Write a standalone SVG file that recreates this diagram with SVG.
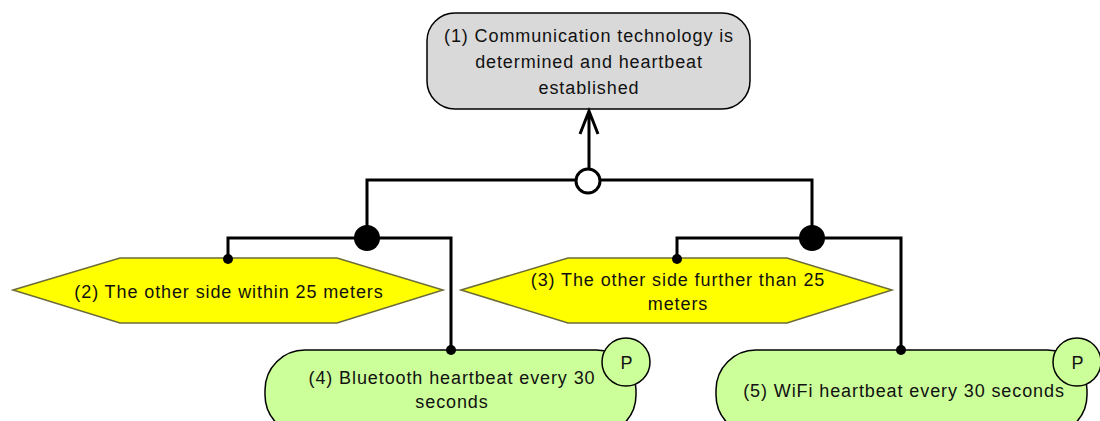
<svg xmlns="http://www.w3.org/2000/svg" width="1100" height="421" viewBox="0 0 1100 421">
<style>
.t{font-family:"Liberation Sans",Arial,sans-serif;font-size:18px;letter-spacing:0.9px;fill:#111;text-anchor:middle}
.ln{fill:none;stroke:#000;stroke-width:3}
.hex{fill:#ffff00;stroke:#6b6b3a;stroke-width:1.5}
.act{fill:#ccff99;stroke:#000;stroke-width:1.5}
</style>
<rect width="1100" height="421" fill="#fff"/>
<g id="node1">
<rect x="427" y="13" width="323" height="96" rx="28" fill="#d9d9d9" stroke="#000" stroke-width="1.5"/>
<text class="t" x="589" y="42">(1) Communication technology is</text>
<text class="t" x="589" y="68">determined and heartbeat</text>
<text class="t" x="589" y="94">established</text>
</g>
<g id="node2">
<polygon class="hex" points="13,290 120,258 337,258 443,290 337,323 120,323"/>
<text class="t" x="229" y="298">(2) The other side within 25 meters</text>
</g>
<g id="node3">
<polygon class="hex" points="461,290 568,258 787,258 892,290 787,323 568,323"/>
<text class="t" x="678" y="286">(3) The other side further than 25</text>
<text class="t" x="678" y="310">meters</text>
</g>
<g id="node4">
<rect x="265" y="350" width="371" height="85" rx="40" class="act"/>
<text class="t" x="452" y="384">(4) Bluetooth heartbeat every 30</text>
<text class="t" x="452" y="408">seconds</text>
<circle cx="626" cy="362" r="24" class="act"/>
<text class="t" x="627" y="369">P</text>
</g>
<g id="node5">
<rect x="716" y="350" width="371" height="85" rx="40" class="act"/>
<text class="t" x="904" y="397">(5) WiFi heartbeat every 30 seconds</text>
<circle cx="1077" cy="362" r="24" class="act"/>
<text class="t" x="1078" y="369">P</text>
</g>
<g id="connectors">
<path class="ln" d="M589,168 V111 M580,134 L589,111 L598,134"/>
<path class="ln" d="M367,238 V180 H812 V238"/>
<path class="ln" d="M228,259 V238 H451 V350"/>
<path class="ln" d="M677,259 V238 H901 V350"/>
<circle cx="588" cy="181" r="12" fill="#fff" stroke="#000" stroke-width="3"/>
<circle cx="367" cy="238" r="13" fill="#000"/>
<circle cx="812" cy="238" r="13" fill="#000"/>
<circle cx="228" cy="259" r="5" fill="#000"/>
<circle cx="451" cy="350" r="5" fill="#000"/>
<circle cx="677" cy="259" r="5" fill="#000"/>
<circle cx="901" cy="350" r="5" fill="#000"/>
</g>
</svg>
